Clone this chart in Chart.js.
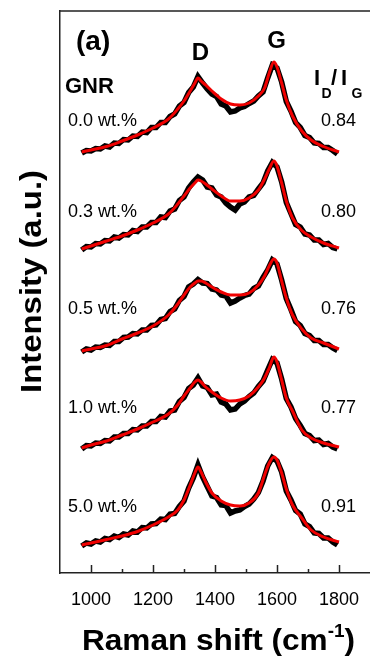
<!DOCTYPE html>
<html>
<head>
<meta charset="utf-8">
<script src="https://cdn.jsdelivr.net/npm/chart.js@4.4.1/dist/chart.umd.min.js"></script>
<style>
  html, body { margin: 0; padding: 0; background: #fff; }
  #wrap { width: 370px; height: 659px; position: relative; }
</style>
</head>
<body>
<div id="wrap"><canvas id="raman"></canvas></div>
<script>
// sample names and I_D/I_G values, top to bottom
const samples = ['0.0 wt.%', '0.3 wt.%', '0.5 wt.%', '1.0 wt.%', '5.0 wt.%'];
const ratios = ['0.84', '0.80', '0.76', '0.77', '0.91'];
// vertical shift of each spectrum (a.u.)
const offsets = [421, 324, 222, 125, 28];

const xTicks = [1000, 1200, 1400, 1600, 1800];

// fitted curves (red)
const fitX = [970, 1000, 1050, 1100, 1150, 1200, 1250, 1280, 1300, 1320, 1335, 1345, 1355, 1370, 1390, 1420,
  1450, 1480, 1510, 1540, 1560, 1575, 1590, 1600, 1615, 1630, 1650, 1680, 1710, 1750, 1800];
const fit00 = [0, 2, 5.5, 11, 17, 24, 33, 43, 51, 61, 69, 74, 71, 67, 61, 53, 48, 47, 49, 56, 64, 79, 90, 85, 69, 52, 36, 21, 12, 5.5, 0];
const fit03 = [0, 3, 8, 13, 19, 26, 35, 45, 53, 61, 66, 69, 68, 65, 60, 53, 48, 48, 51, 59, 70, 80, 88, 83, 66, 48, 31, 18.5, 12, 6, 1];
const fit05 = [0, 2, 5.5, 12, 18, 25, 36, 47, 56, 64, 68, 70, 70, 68, 64, 59, 56, 56, 58, 66, 75, 85, 92, 88, 70, 53, 36, 22, 13, 8, 2];
const fit10 = [0, 3, 7, 13, 19, 26, 34, 43, 52, 60, 66, 68, 66, 61, 56, 50, 47, 48, 52, 61, 70, 80, 91, 86, 68, 50, 37, 18, 10, 5, 1];
const fit50 = [0, 2, 5.5, 9, 13.5, 20, 28, 35, 45, 60, 72, 78, 73, 63, 52, 44, 40, 39, 42, 52, 70, 82, 88, 85, 72, 56, 40, 27, 15, 8, 3];

// measured spectra (black)
const rawX = [970, 985, 1000, 1015, 1030, 1045, 1060, 1075, 1090, 1105, 1120, 1135, 1150, 1165, 1180, 1195,
  1210, 1225, 1240, 1255, 1270, 1285, 1300, 1315, 1330, 1345, 1360, 1375, 1390, 1405, 1420, 1435, 1450, 1465,
  1480, 1495, 1510, 1525, 1540, 1555, 1570, 1585, 1600, 1615, 1630, 1645, 1660, 1675, 1690, 1705, 1720, 1735,
  1750, 1765, 1780, 1795];
const raw00 = [-1, 1.5, 1, 3.5, 3, 6, 5, 9, 8.5, 12.5, 12, 16, 15.5, 20, 19.5, 24.5, 24.5, 29.5, 29.5, 35.5,
  38, 46, 49.5, 59.5, 65, 75.5, 69, 63, 58, 55.5, 48, 46, 40, 41, 44, 45.5, 48.5, 51, 56, 60,
  74, 87, 84, 70, 50.5, 41, 29.5, 24.5, 16.5, 14.5, 9, 8.5, 4.5, 4.5, 1.5, -2];
const raw03 = [-1, 2.5, 2, 5.5, 5, 8.5, 8, 12, 11, 14.5, 14, 18.5, 17.5, 22, 22, 26.5, 26.5, 32, 31.5, 38,
  40, 48.5, 52, 61, 67, 72, 69, 62, 61, 54, 52, 46, 42, 39, 45, 47, 52, 53.5, 60, 66,
  78, 86.5, 82, 67, 46.5, 35.5, 24.5, 22, 15, 14, 9, 9, 4.5, 5.5, 1.5, 0];
const raw05 = [-1, 2, 1, 4, 3.5, 6, 5.5, 9.5, 9.5, 13.5, 14, 17.5, 17, 21, 21, 25.5, 26, 31.5, 32.5, 39.5,
  42, 50.5, 54.5, 64, 67, 71.5, 68, 67.5, 62, 61, 56, 55, 48, 50, 53, 55.5, 57, 62.5, 65, 73.5,
  81, 91, 87, 71, 52.5, 41.5, 29.5, 25.5, 17.5, 15.5, 10.5, 10.5, 6.5, 6.5, 3, 0.5];
const raw10 = [-1, 2.5, 2, 5, 4.5, 7.5, 7, 11, 11, 14.5, 14.5, 18.5, 18, 22, 22, 26.5, 26.5, 31.5, 31, 37,
  38, 46.5, 50.5, 59.5, 63, 70, 62, 60.5, 53, 54, 46, 44, 38, 39, 44, 47, 51.5, 55, 61.5, 67,
  78, 88.5, 85, 69, 49.5, 41, 29.5, 22.5, 14.5, 12.5, 7.5, 8, 3.5, 4.5, 1, -1];
const raw50 = [-1, 2, 1, 4, 3, 6.5, 5.5, 9, 7.5, 11, 10, 14, 13, 17.5, 17, 21, 21.5, 26, 25.5, 31,
  31.5, 38.5, 44, 57, 67, 80, 68, 58.5, 49, 47.5, 40, 39.5, 32, 34, 35, 38.5, 41, 46, 52.5, 64,
  79, 87.5, 84, 73, 54, 45, 34.5, 31, 21, 18.5, 12, 11.5, 7, 7, 3, 0];

const fits = [fit00, fit03, fit05, fit10, fit50];
const raws = [raw00, raw03, raw05, raw10, raw50];

const FF = '"Liberation Sans", Arial, Helvetica, sans-serif';

let datasets = [];
raws.forEach(function (arr, i) {
  datasets.push({
    data: arr.map(function (v, j) { return { x: rawX[j], y: v + offsets[i] }; }),
    borderColor: '#000', borderWidth: 5.5, pointRadius: 0, tension: 0, order: 1
  });
});
fits.forEach(function (arr, i) {
  datasets.push({
    data: arr.map(function (v, j) { return { x: fitX[j], y: v + offsets[i] }; }),
    borderColor: '#f00000', borderWidth: 3, pointRadius: 0,
    cubicInterpolationMode: 'monotone', tension: 0.4, order: 0
  });
});

// inward ticks + top frame line
const framePlugin = {
  id: 'frame',
  afterDraw(chart) {
    const ctx = chart.ctx, a = chart.chartArea, sx = chart.scales.x;
    ctx.save();
    ctx.strokeStyle = '#222';
    ctx.lineWidth = 1.5;
    ctx.beginPath();
    ctx.moveTo(a.left, a.top);
    ctx.lineTo(a.right, a.top);
    for (let v = 1000; v <= 1800; v += 100) {
      const px = Math.round(sx.getPixelForValue(v)) + 0.5;
      const len = v % 200 === 0 ? 8 : 4;
      ctx.moveTo(px, a.bottom);
      ctx.lineTo(px, a.bottom - len);
    }
    ctx.stroke();
    ctx.restore();
  }
};

// stretched text helper
function wideText(ctx, txt, x, y, width) {
  const w = ctx.measureText(txt).width;
  ctx.save();
  ctx.translate(x, y);
  ctx.scale(width / w, 1);
  ctx.fillText(txt, 0, 0);
  ctx.restore();
}

const textPlugin = {
  id: 'texts',
  afterDraw(chart) {
    const ctx = chart.ctx;
    ctx.save();
    ctx.fillStyle = '#000';
    ctx.textBaseline = 'alphabetic';

    // x title with superscript
    ctx.font = 'bold 30px ' + FF;
    const p1 = 'Raman shift (cm', p3 = ')';
    const w1 = ctx.measureText(p1).width, w3 = ctx.measureText(p3).width;
    ctx.font = 'bold 18px ' + FF;
    const w2 = ctx.measureText('-1').width;
    const k = 273 / (w1 + w2 + w3);
    ctx.save();
    ctx.translate(82, 650);
    ctx.scale(k, 1);
    ctx.font = 'bold 30px ' + FF;
    ctx.fillText(p1, 0, 0);
    ctx.fillText(p3, w1 + w2, 0);
    ctx.font = 'bold 18px ' + FF;
    ctx.fillText('-1', w1, -13);
    ctx.restore();

    // y title
    ctx.save();
    ctx.translate(41, 281.5);
    ctx.rotate(-Math.PI / 2);
    ctx.font = 'bold 30px ' + FF;
    ctx.textAlign = 'left';
    wideText(ctx, 'Intensity (a.u.)', -111.5, 0, 223);
    ctx.restore();

    // panel labels
    ctx.textAlign = 'left';
    ctx.font = 'bold 28px ' + FF;
    ctx.fillText('(a)', 76, 50);
    ctx.font = 'bold 24px ' + FF;
    ctx.textAlign = 'center';
    ctx.fillText('D', 200.5, 60);
    ctx.fillText('G', 276.5, 48);
    ctx.textAlign = 'left';
    ctx.font = 'bold 22px ' + FF;
    ctx.fillText('GNR', 65, 93);

    // I_D / I_G
    ctx.font = 'bold 22px ' + FF;
    ctx.fillText('I', 314, 85);
    ctx.fillText('/', 331, 85);
    ctx.fillText('I', 341, 85);
    ctx.font = 'bold 14px ' + FF;
    ctx.fillText('D', 321.5, 98);
    ctx.fillText('G', 351.5, 98);

    // sample labels and ratios
    const base = [126, 217, 314, 413, 512];
    ctx.font = '18px ' + FF;
    samples.forEach(function (s, i) {
      ctx.textAlign = 'left';
      ctx.fillText(s, 68, base[i]);
      ctx.textAlign = 'right';
      ctx.fillText(ratios[i], 356, base[i]);
    });
    ctx.restore();
  }
};

new Chart(document.getElementById('raman'), {
  type: 'line',
  data: { datasets: datasets },
  options: {
    responsive: true,
    maintainAspectRatio: false,
    animation: false,
    layout: { padding: { top: 11, left: 0, right: 0, bottom: 0 } },
    plugins: { legend: { display: false }, tooltip: { enabled: false } },
    scales: {
      x: {
        type: 'linear', min: 900, max: 1900,
        ticks: {
          stepSize: 100, autoSkip: false, maxRotation: 0, padding: 16, color: '#000',
          font: { family: FF, size: 18 },
          callback: function (v) { return xTicks.includes(v) ? String(v) : ''; }
        },
        grid: { display: false, drawTicks: false },
        border: { display: true, color: '#222', width: 1.5 },
        afterFit: function (s) { s.height = 86; s.paddingLeft = 0; s.paddingRight = 0; }
      },
      y: {
        min: 0, max: 562,
        ticks: { display: false },
        grid: { display: false, drawTicks: false },
        border: { display: true, color: '#222', width: 1.5 },
        afterFit: function (s) { s.width = 60; }
      }
    }
  },
  plugins: [framePlugin, textPlugin]
});
</script>
</body>
</html>
